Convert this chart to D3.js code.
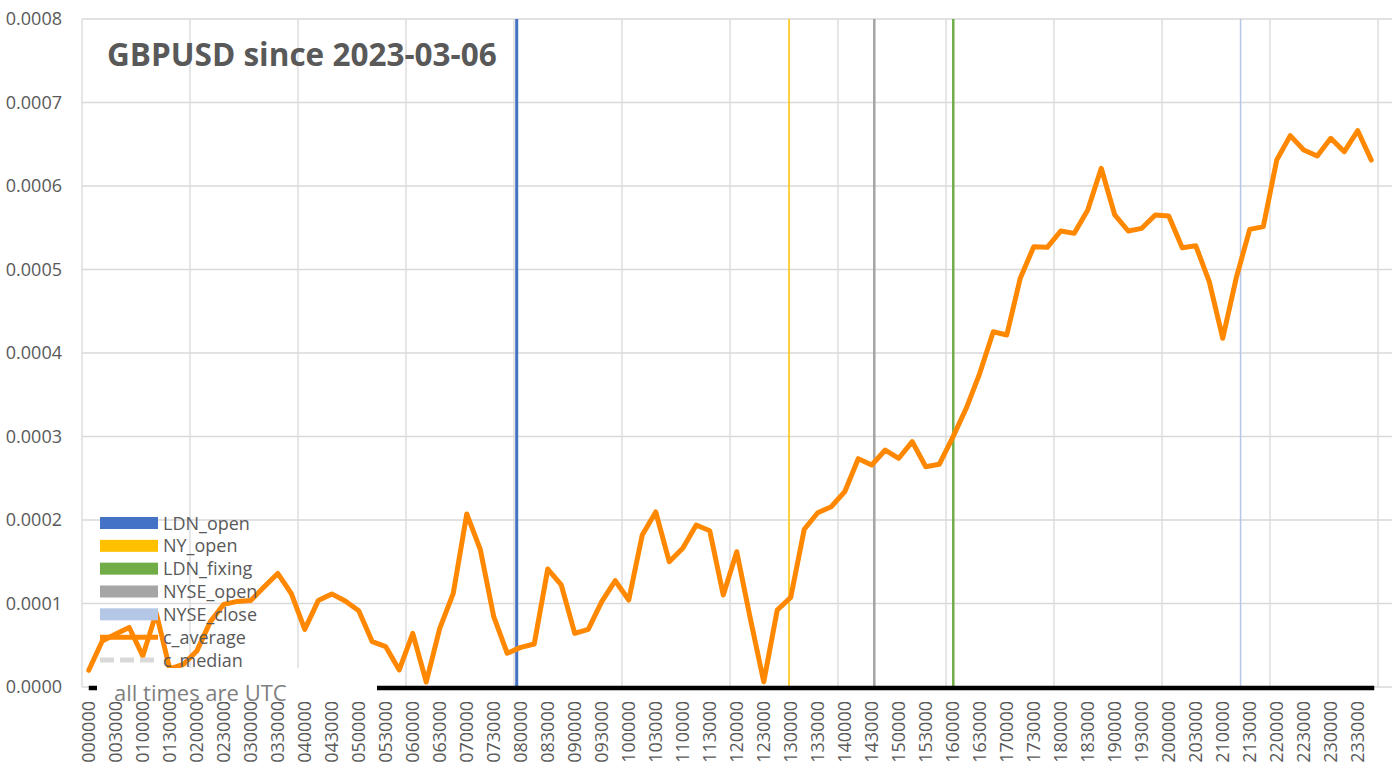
<!DOCTYPE html>
<html>
<head>
<meta charset="utf-8">
<script src="https://cdn.jsdelivr.net/npm/d3@7"></script>
<style>
  body { margin: 0; background: #fff; }
  text { font-family: "Open Sans", sans-serif; fill: #595959; }
</style>
</head>
<body>
<svg id="chart" width="1400" height="767"></svg>
<script>
// 15 minute slots (UTC), every other one gets a label
const times = [
  "000000","001500","003000","004500","010000","011500","013000","014500",
  "020000","021500","023000","024500","030000","031500","033000","034500",
  "040000","041500","043000","044500","050000","051500","053000","054500",
  "060000","061500","063000","064500","070000","071500","073000","074500",
  "080000","081500","083000","084500","090000","091500","093000","094500",
  "100000","101500","103000","104500","110000","111500","113000","114500",
  "120000","121500","123000","124500","130000","131500","133000","134500",
  "140000","141500","143000","144500","150000","151500","153000","154500",
  "160000","161500","163000","164500","170000","171500","173000","174500",
  "180000","181500","183000","184500","190000","191500","193000","194500",
  "200000","201500","203000","204500","210000","211500","213000","214500",
  "220000","221500","223000","224500","230000","231500","233000","234500"
];

// c_average
const cAverage = [
  0.0000200, 0.0000551, 0.0000635, 0.0000713, 0.0000371, 0.0000886, 0.0000216, 0.0000270,
  0.0000430, 0.0000780, 0.0000990, 0.0001025, 0.0001035, 0.0001200, 0.0001360, 0.0001120,
  0.0000690, 0.0001035, 0.0001115, 0.0001030, 0.0000914, 0.0000543, 0.0000483, 0.0000204,
  0.0000643, 0.0000060, 0.0000703, 0.0001122, 0.0002072, 0.0001649, 0.0000842, 0.0000404,
  0.0000475, 0.0000515, 0.0001413, 0.0001222, 0.0000643, 0.0000691, 0.0001022, 0.0001273,
  0.0001042, 0.0001820, 0.0002096, 0.0001501, 0.0001661, 0.0001940, 0.0001872, 0.0001102,
  0.0001620, 0.0000823, 0.0000063, 0.0000922, 0.0001074, 0.0001889, 0.0002087, 0.0002159,
  0.0002339, 0.0002734, 0.0002659, 0.0002838, 0.0002739, 0.0002938, 0.0002638, 0.0002667,
  0.0002990, 0.0003338, 0.0003757, 0.0004255, 0.0004216, 0.0004895, 0.0005273, 0.0005266,
  0.0005461, 0.0005433, 0.0005713, 0.0006212, 0.0005653, 0.0005461, 0.0005493, 0.0005653,
  0.0005641, 0.0005261, 0.0005285, 0.0004854, 0.0004176, 0.0004900, 0.0005481, 0.0005513,
  0.0006311, 0.0006603, 0.0006431, 0.0006359, 0.0006571, 0.0006411, 0.0006662, 0.0006311
];

// market events, as hours of the day
const eventNames = ["LDN_open", "NY_open", "LDN_fixing", "NYSE_open", "NYSE_close"];
const eventHours = [7.925, 12.968, 16.01, 14.547, 21.33];
const eventColors = ["#4472c4", "#ffc000", "#70ad47", "#a5a5a5", "#b4c7e7"];
const eventWidths = [3, 1.5, 2.5, 2.5, 1.5];

const yTicks = [0, 0.0001, 0.0002, 0.0003, 0.0004, 0.0005, 0.0006, 0.0007, 0.0008];

const svg = d3.select("#chart");

const plotLeft = 82, plotRight = 1378, gridRight = 1392, plotTop = 19, plotBottom = 687;

const x = d3.scaleBand()
  .domain(times)
  .range([plotLeft, plotRight])
  .padding(0);
const bw = x.bandwidth();
const xc = d => x(d) + bw / 2;

const y = d3.scaleLinear()
  .domain([0, 0.0008])
  .range([plotBottom, plotTop]);

// hours -> pixel, hour 0 sits on the first slot centre
const xh = d3.scaleLinear()
  .domain([0, 24])
  .range([xc(times[0]), xc(times[0]) + bw * times.length]);

// grid
const grid = svg.append("g").attr("class", "grid");
grid.selectAll(".hgrid")
  .data(yTicks)
  .enter()
  .append("line")
  .attr("x1", plotLeft).attr("x2", gridRight)
  .attr("y1", d => y(d)).attr("y2", d => y(d))
  .style("stroke", "#d9d9d9")
  .style("stroke-width", 1.3);

const vgrid = times.filter((d, i) => i % 8 === 0).map(d => x(d)).concat([plotRight]);
grid.selectAll(".vgrid")
  .data(vgrid)
  .enter()
  .append("line")
  .attr("x1", d => d).attr("x2", d => d)
  .attr("y1", plotTop).attr("y2", plotBottom)
  .style("stroke", "#d9d9d9")
  .style("stroke-width", 1.3);

// y axis labels
svg.append("g")
  .selectAll("text")
  .data(yTicks)
  .enter()
  .append("text")
  .attr("x", 62)
  .attr("y", d => y(d) + 6)
  .attr("text-anchor", "end")
  .style("font-size", "18px")
  .text(d => d3.format(".4f")(d));

// x axis labels, rotated
svg.append("g")
  .selectAll("text")
  .data(times.filter((d, i) => i % 2 === 0))
  .enter()
  .append("text")
  .attr("transform", d => "translate(" + (xc(d) + 6.5) + ",701)rotate(-90)")
  .attr("text-anchor", "end")
  .style("font-size", "18px")
  .text(d => d);

// event lines
svg.append("g")
  .selectAll("line")
  .data(eventNames)
  .enter()
  .append("line")
  .attr("x1", (d, i) => xh(eventHours[i]))
  .attr("x2", (d, i) => xh(eventHours[i]))
  .attr("y1", plotTop).attr("y2", plotBottom)
  .style("stroke", (d, i) => eventColors[i])
  .style("stroke-width", (d, i) => eventWidths[i]);

// black base line along zero
svg.append("line")
  .attr("x1", xc(times[0]))
  .attr("x2", xc(times[times.length - 1]) + 3)
  .attr("y1", y(0) + 1).attr("y2", y(0) + 1)
  .style("stroke", "#000")
  .style("stroke-width", 4.5);

// c_average line
const line = d3.line()
  .x((d, i) => xc(times[i]))
  .y(d => y(d));

svg.append("path")
  .datum(cAverage)
  .attr("d", line)
  .style("fill", "none")
  .style("stroke", "#ff8800")
  .style("stroke-width", 5)
  .style("stroke-linejoin", "round")
  .style("stroke-linecap", "round");

// title
svg.append("text")
  .attr("x", 107)
  .attr("y", 66)
  .style("font-size", "31.5px")
  .style("font-weight", "bold")
  .text("GBPUSD since 2023-03-06");

// legend
const legendNames = ["LDN_open", "NY_open", "LDN_fixing", "NYSE_open", "NYSE_close", "c_average", "c_median"];
const legendColors = ["#4472c4", "#ffc000", "#70ad47", "#a5a5a5", "#b4c7e7", "#ff8800", "#d9d9d9"];
const ly = d3.scaleLinear().domain([0, 6]).range([523, 660]);

const legend = svg.append("g").attr("class", "legend");
legendNames.forEach((name, i) => {
  if (i < 5) {
    legend.append("rect")
      .attr("x", 100).attr("y", ly(i) - 6)
      .attr("width", 58).attr("height", 12)
      .style("fill", legendColors[i]);
  } else {
    legend.append("line")
      .attr("x1", 100).attr("x2", 158)
      .attr("y1", ly(i)).attr("y2", ly(i))
      .style("stroke", legendColors[i])
      .style("stroke-width", 5)
      .style("stroke-dasharray", i === 6 ? "14,6" : null);
  }
  legend.append("text")
    .attr("x", 163)
    .attr("y", ly(i) + 6.5)
    .style("font-size", "18px")
    .text(name);
});

// note box
svg.append("rect")
  .attr("x", 97).attr("y", 668)
  .attr("width", 280).attr("height", 32)
  .style("fill", "#fff");
svg.append("text")
  .attr("x", 114)
  .attr("y", 701)
  .style("font-size", "22px")
  .style("fill", "#7f7f7f")
  .text("all times are UTC");
</script>
</body>
</html>
